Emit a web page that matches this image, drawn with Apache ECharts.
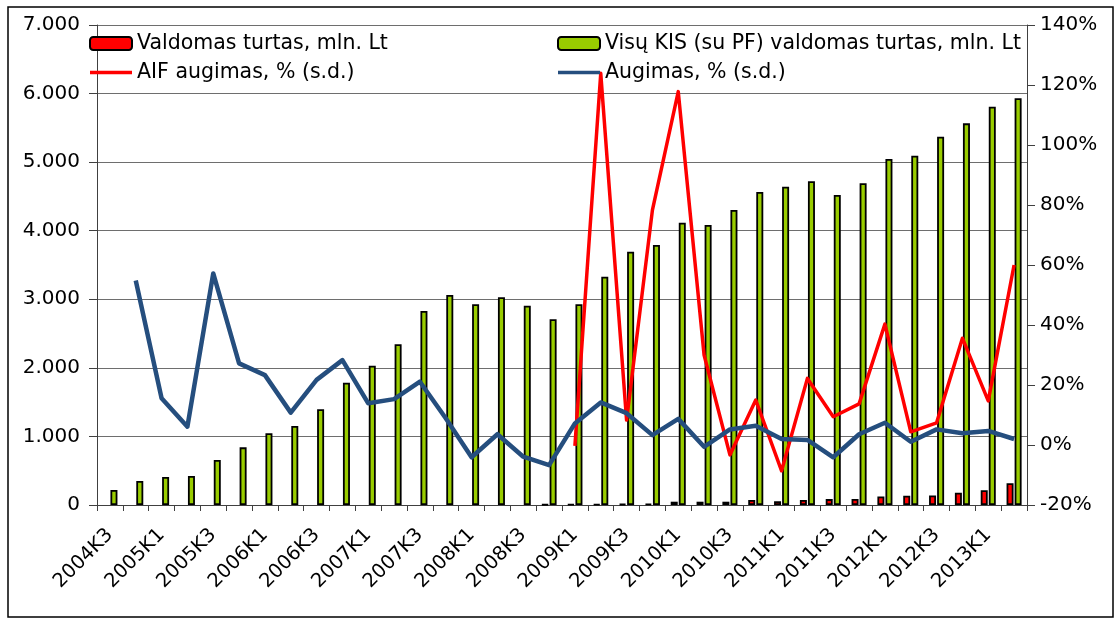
<!DOCTYPE html>
<html>
<head>
<meta charset="utf-8">
<script src="https://cdn.jsdelivr.net/npm/echarts@6/dist/echarts.min.js"></script>
<style>
    html, body { margin: 0; padding: 0; background: #fff; }
    #main { width: 1117px; height: 621px; }
</style>
</head>
<body>
<div id="main"></div>
<script>
// ketvirčiai
var categories = ['2004K3', '2004K4', '2005K1', '2005K2', '2005K3', '2005K4',
    '2006K1', '2006K2', '2006K3', '2006K4', '2007K1', '2007K2', '2007K3', '2007K4',
    '2008K1', '2008K2', '2008K3', '2008K4', '2009K1', '2009K2', '2009K3', '2009K4',
    '2010K1', '2010K2', '2010K3', '2010K4', '2011K1', '2011K2', '2011K3', '2011K4',
    '2012K1', '2012K2', '2012K3', '2012K4', '2013K1', '2013K2'];

// Valdomas turtas, mln. Lt (AIF)
var aifTurtas = [null, null, null, null, null, null, null, null, null, null,
    null, null, null, null, null, null, null, 8, 10, 12, 14, 16, 48, 48, 48,
    72, 55, 73, 86, 88, 123, 136, 138, 180, 216, 318];

// Visų KIS (su PF) valdomas turtas, mln. Lt
var kisTurtas = [219, 350, 408, 423, 656, 841, 1046, 1152, 1396, 1784, 2031,
    2344, 2829, 3063, 2927, 3029, 2907, 2708, 2927, 3329, 3694, 3792, 4117,
    4083, 4302, 4565, 4642, 4721, 4521, 4692, 5046, 5094, 5371, 5566, 5809, 5931];

// AIF augimas, % (s.d.)
var aifAugimas = [null, null, null, null, null, null, null, null, null, null,
    null, null, null, null, null, null, null, null, -0.3, 123.9, 8.3, 78.3,
    117.8, 30, -3.3, 15, -8.6, 22.2, 9.4, 13.7, 40.3, 4.4, 7.4, 35.6, 14.7, 60];

// Augimas, % (s.d.)
var kisAugimas = [null, 54.8, 15.6, 6.1, 57.2, 27.2, 23.3, 10.8, 21.7, 28.3,
    13.9, 15.3, 21.1, 8.9, -4.1, 3.6, -3.9, -6.7, 7.2, 14.2, 10.6, 3.3, 8.7,
    -0.6, 5.2, 6.4, 2.0, 1.7, -4.1, 3.6, 7.4, 1.1, 5.2, 3.9, 4.7, 2.0];

var names = ['Valdomas turtas, mln. Lt', 'Visų KIS (su PF) valdomas turtas, mln. Lt',
    'AIF augimas, % (s.d.)', 'Augimas, % (s.d.)'];

var font = 'DejaVu Sans';
var axisColor = '#404040';
// legendos linijos ikona
var lineIcon = 'path://M0,0L42,0L42,3.5L0,3.5Z';

var myChart = echarts.init(document.getElementById('main'));
var option = {
    animation: false,
    backgroundColor: '#fff',
    textStyle: { fontFamily: font },
    graphic: [
        {
            type: 'rect',
            shape: { x: 8, y: 7, width: 1105, height: 610 },
            style: { fill: 'none', stroke: '#000', lineWidth: 1.5 },
            silent: true
        }
    ],
    legend: [
        {
            data: [names[0], { name: names[2], icon: lineIcon }],
            orient: 'vertical',
            left: 84,
            top: 28,
            itemWidth: 42,
            itemHeight: 13,
            itemGap: 8,
            textStyle: { fontSize: 20.5, color: '#000', fontFamily: font }
        },
        {
            data: [names[1], { name: names[3], icon: lineIcon }],
            orient: 'vertical',
            left: 552,
            top: 28,
            itemWidth: 42,
            itemHeight: 13,
            itemGap: 8,
            textStyle: { fontSize: 20.5, color: '#000', fontFamily: font }
        }
    ],
    grid: {
        left: 97,
        right: 90,
        top: 25,
        bottom: 116
    },
    xAxis: {
        type: 'category',
        data: categories,
        axisLine: { lineStyle: { color: axisColor, width: 1 } },
        axisTick: { show: true, interval: 0, length: 6, lineStyle: { color: axisColor } },
        axisLabel: {
            interval: 1,
            rotate: 45,
            margin: 27,
            fontSize: 19.5,
            color: '#000',
            fontFamily: font
        }
    },
    yAxis: [
        {
            type: 'value',
            min: 0,
            max: 7000,
            interval: 1000,
            axisLine: { show: true, lineStyle: { color: axisColor } },
            axisTick: { show: true, length: 8, lineStyle: { color: axisColor } },
            axisLabel: {
                margin: 17,
                fontSize: 20,
                color: '#000',
                fontFamily: font,
                formatter: function (v) {
                    return v === 0 ? '0' : (v / 1000) + '.000';
                }
            },
            splitLine: { show: true, lineStyle: { color: '#6e6e6e', width: 1 } }
        },
        {
            type: 'value',
            min: -20,
            max: 140,
            interval: 20,
            axisLine: { show: true, lineStyle: { color: axisColor } },
            axisTick: { show: true, length: 8, lineStyle: { color: axisColor } },
            axisLabel: {
                margin: 13,
                fontSize: 20,
                color: '#000',
                fontFamily: font,
                formatter: '{value}%'
            },
            splitLine: { show: false }
        }
    ],
    series: [
        {
            name: names[0],
            type: 'bar',
            data: aifTurtas,
            barWidth: 7,
            barGap: '15%',
            itemStyle: { color: '#FF0000', borderColor: '#000', borderWidth: 1.8 }
        },
        {
            name: names[1],
            type: 'bar',
            data: kisTurtas,
            barWidth: 7,
            itemStyle: { color: '#99CC00', borderColor: '#000', borderWidth: 1.8 }
        },
        {
            name: names[2],
            type: 'line',
            yAxisIndex: 1,
            data: aifAugimas,
            symbol: 'none',
            lineStyle: { color: '#FF0000', width: 3.5, join: 'round' },
            itemStyle: { color: '#FF0000' },
            z: 3
        },
        {
            name: names[3],
            type: 'line',
            yAxisIndex: 1,
            data: kisAugimas,
            symbol: 'none',
            lineStyle: { color: '#254E7E', width: 4.5, join: 'round' },
            itemStyle: { color: '#254E7E' },
            z: 4
        }
    ]
};
myChart.setOption(option);
</script>
</body>
</html>
